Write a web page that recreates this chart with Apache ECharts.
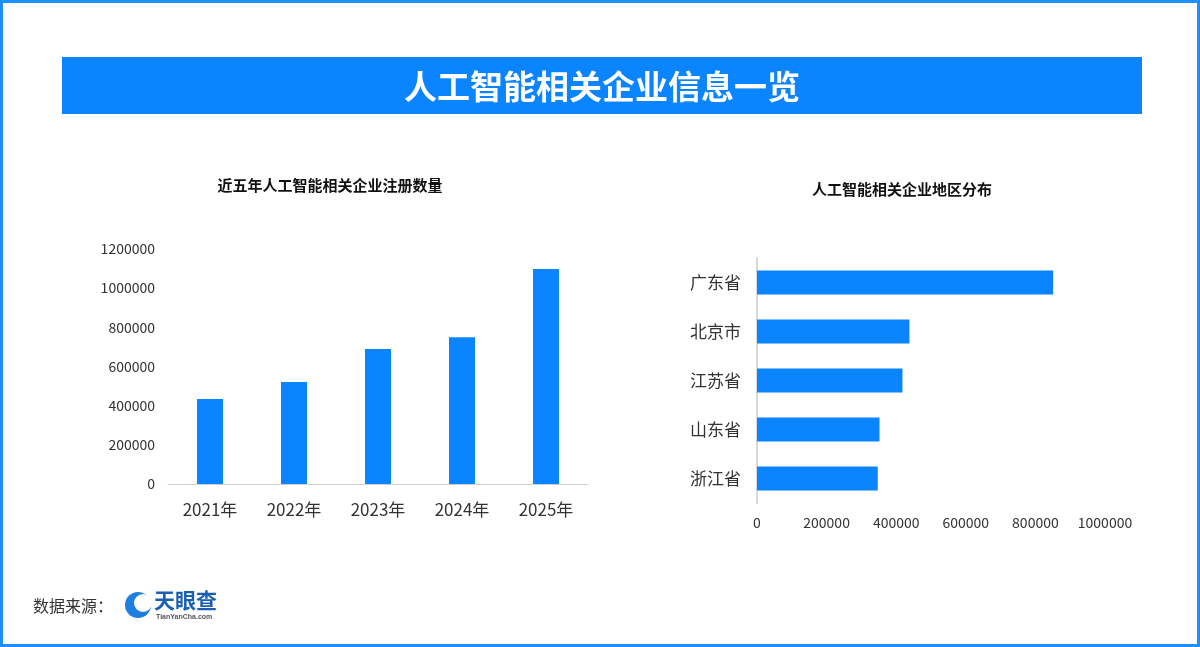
<!DOCTYPE html>
<html><head><meta charset="utf-8">
<script src="https://cdn.jsdelivr.net/npm/echarts@6/dist/echarts.min.js"></script>
<style>html,body{margin:0;padding:0;background:#fff}#c{width:1200px;height:647px}</style>
</head><body><div id="c"></div>
<script>
const years = ['2021年','2022年','2023年','2024年','2025年'];
const yearValues = [434000, 521000, 690000, 750000, 1098000];
const regions = ['广东省','北京市','江苏省','山东省','浙江省'];
const regionValues = [851000, 438000, 418000, 352000, 347000];
const blue = '#0A84FF';
const font = '"Noto Sans CJK SC", sans-serif';
const plain = v => String(v);
const chart = echarts.init(document.getElementById('c'));
chart.setOption({
  backgroundColor:'#fff',
  textStyle:{fontFamily:font},
  title:[
    {text:'近五年人工智能相关企业注册数量',left:325,top:173,textAlign:'center',textStyle:{fontSize:15,fontWeight:'bold',color:'#111',fontFamily:font}},
    {text:'人工智能相关企业地区分布',left:897,top:177,textAlign:'center',textStyle:{fontSize:15,fontWeight:'bold',color:'#111',fontFamily:font}}
  ],
  grid:[
    {left:168,width:420,top:249,height:235},
    {left:757,width:348,top:258,height:245}
  ],
  xAxis:[
    {gridIndex:0,type:'category',data:years,axisTick:{show:false},axisLine:{lineStyle:{color:'#d0d0d0'}},axisLabel:{fontSize:17,color:'#333',margin:17}},
    {gridIndex:1,type:'value',min:0,max:1000000,interval:200000,splitLine:{show:false},axisLine:{show:false},axisLabel:{fontSize:14,color:'#333',margin:13,formatter:plain}}
  ],
  yAxis:[
    {gridIndex:0,type:'value',min:0,max:1200000,interval:200000,splitLine:{show:false},axisLabel:{fontSize:14,color:'#333',margin:13,formatter:plain}},
    {gridIndex:1,type:'category',data:regions,inverse:true,axisTick:{show:false},axisLine:{show:true,lineStyle:{color:'#d8d8d8',width:2}},axisLabel:{fontSize:17,color:'#333',margin:16}}
  ],
  series:[
    {type:'bar',xAxisIndex:0,yAxisIndex:0,data:yearValues,barWidth:26,itemStyle:{color:blue}},
    {type:'bar',xAxisIndex:1,yAxisIndex:1,data:regionValues,barWidth:24,itemStyle:{color:blue}}
  ],
  graphic:[
    {type:'rect',shape:{x:1.5,y:1.5,width:1197,height:644},style:{fill:'none',stroke:'#1E8FFF',lineWidth:3}},
    {type:'rect',shape:{x:62,y:57,width:1080,height:57},style:{fill:blue}},
    {type:'text',x:602,y:86,style:{text:'人工智能相关企业信息一览',fill:'#fff',font:'bold 33px '+font,textAlign:'center',textVerticalAlign:'middle'}},
    {type:'text',x:33,y:606,style:{text:'数据来源：',fill:'#333',font:'16px '+font,textVerticalAlign:'middle'}},
    {type:'circle',shape:{cx:138,cy:605,r:13},style:{fill:'#1E7FE0'}},
    {type:'circle',shape:{cx:143,cy:603,r:9},style:{fill:'#fff'}},
    {type:'text',x:154,y:600,style:{text:'天眼查',fill:'#1A5FB4',font:'bold 21px '+font,textVerticalAlign:'middle'}},
    {type:'text',x:156,y:617,style:{text:'TianYanCha.com',fill:'#555',font:'bold 7px sans-serif',textVerticalAlign:'middle'}}
  ]
});
</script></body></html>
